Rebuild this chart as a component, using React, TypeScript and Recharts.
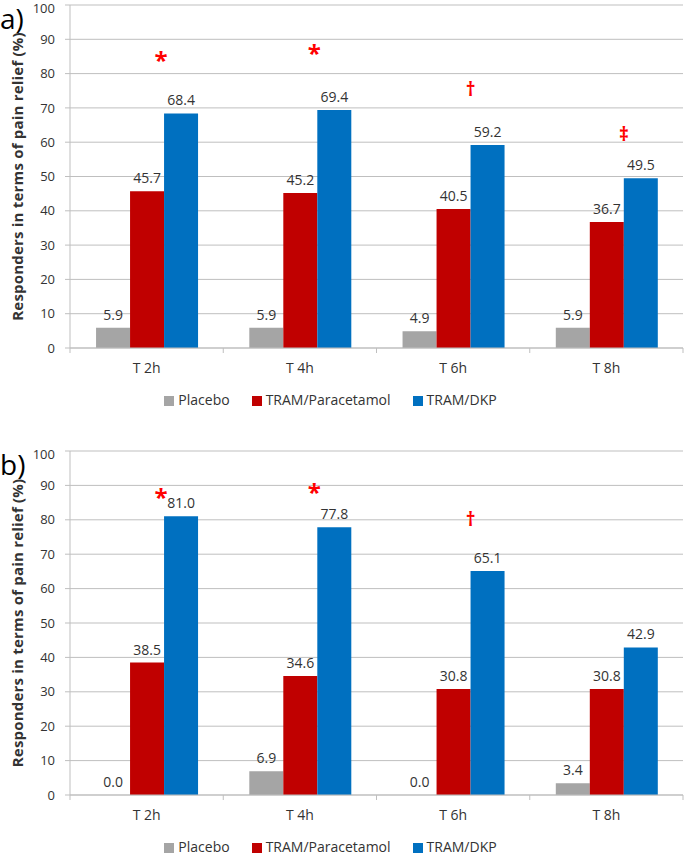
import React from 'react';
import { ComposedChart, Bar, XAxis, YAxis, CartesianGrid, Legend, LabelList } from 'recharts';

const timepoints = ['T 2h', 'T 4h', 'T 6h', 'T 8h'];
const seriesNames = ['Placebo', 'TRAM/Paracetamol', 'TRAM/DKP'];

// panel a)
const placeboA = [5.9, 5.9, 4.9, 5.9];
const tramParaA = [45.7, 45.2, 40.5, 36.7];
const tramDkpA = [68.4, 69.4, 59.2, 49.5];
// significance marks above the TRAM/DKP bars and the level (%) they sit at
const marksA = ['*', '*', '†', '‡'];
const markLevelsA = [85.3, 87.2, 74.9, 61.8];

// panel b)
const placeboB = [0.0, 6.9, 0.0, 3.4];
const tramParaB = [38.5, 34.6, 30.8, 30.8];
const tramDkpB = [81.0, 77.8, 65.1, 42.9];
const marksB = ['*', '*', '†', ''];
const markLevelsB = [87.8, 89.5, 79.7, 0];

const yTicks = [0, 10, 20, 30, 40, 50, 60, 70, 80, 90, 100];

const GRAY = '#A5A5A5';
const RED = '#C00000';
const BLUE = '#0070C0';
const GRID = '#BFBFBF';
const TEXT = '#333333';

const W = 685;
const AXIS_W = 70;
const RIGHT = 2;
const HALF_BAND = (W - AXIS_W - RIGHT) / timepoints.length / 2;

const CategoryTick = (props: any) => {
  const { x, y, payload, index, visibleTicksCount } = props;
  const half = payload?.offset || HALF_BAND;
  const last = index === visibleTicksCount - 1;
  return (
    <g>
      <line x1={x - half} y1={y} x2={x - half} y2={y + 5} stroke={GRID} />
      {last && <line x1={x + half} y1={y} x2={x + half} y2={y + 5} stroke={GRID} />}
      <text x={x} y={y + 15} dy="0.71em" textAnchor="middle" fill={TEXT} fontSize={14}>
        {payload.value}
      </text>
    </g>
  );
};

// placebo values are labelled from the neighbouring red bar, so that 0.0 still shows
const placeboContent = (rows: any[]) => (props: any) => {
  const row = rows[props.index];
  if (!row) return null;
  const vb = props.viewBox || props;
  const pxPerUnit = vb.height / row.para;
  const top = vb.y + vb.height - row.placebo * pxPerUnit;
  return (
    <text x={vb.x - vb.width / 2} y={top - 8} textAnchor="middle" fill={TEXT} fontSize={14}>
      {row.placebo.toFixed(1)}
    </text>
  );
};

const markContent = (rows: any[]) => (props: any) => {
  const row = rows[props.index];
  if (!row || !row.mark) return null;
  const vb = props.viewBox || props;
  const pxPerUnit = vb.height / row.dkp;
  const cy = vb.y + vb.height - row.level * pxPerUnit;
  const star = row.mark === '*';
  const size = star ? 24 : 19;
  const shift = star ? 0.56 * size : 0.28 * size;
  return (
    <text x={vb.x - (star ? 3 : 0)} y={cy + shift} textAnchor="middle" fill="#FF0000" fontSize={size} fontWeight="bold">
      {row.mark}
    </text>
  );
};

function Panel({ placebo, para, dkp, marks, levels, letter, top, height }: any) {
  const rows = timepoints.map((t, i) => ({
    time: t,
    placebo: placebo[i],
    para: para[i],
    dkp: dkp[i],
    mark: marks[i],
    level: levels[i],
  }));
  return (
    <div style={{ position: 'absolute', left: 0, top, width: W, height }}>
      <ComposedChart
        width={W}
        height={height}
        data={rows}
        margin={{ top: 5, right: RIGHT, left: 0, bottom: 0 }}
        barCategoryGap="17%"
        barGap={0}
      >
        <CartesianGrid vertical={false} stroke={GRID} />
        <XAxis
          dataKey="time"
          height={42}
          axisLine={{ stroke: GRID }}
          tickLine={false}
          tickSize={0}
          tickMargin={0}
          tick={<CategoryTick />}
          interval={0}
        />
        <YAxis
          type="number"
          domain={[0, 100]}
          ticks={yTicks}
          width={AXIS_W}
          axisLine={{ stroke: GRID }}
          tickLine={{ stroke: GRID }}
          tickSize={5}
          tickMargin={10}
          tick={{ fill: TEXT, fontSize: 13 }}
          label={{
            value: 'Responders in terms of pain relief (%)',
            angle: -90,
            position: 'insideLeft',
            offset: 18,
            style: { textAnchor: 'middle', fontWeight: 'bold', fontSize: 15, letterSpacing: '0.2px', fill: TEXT },
          }}
        />
        <Legend
          verticalAlign="bottom"
          height={30}
          iconType="square"
          iconSize={10}
          itemSorter={(item: any) => seriesNames.indexOf(item.value)}
          wrapperStyle={{ fontSize: 14 }}
          formatter={(v: string) => <span style={{ color: TEXT }}>{v}</span>}
        />
        <Bar dataKey="placebo" name={seriesNames[0]} fill={GRAY} isAnimationActive={false} />
        <Bar dataKey="para" name={seriesNames[1]} fill={RED} isAnimationActive={false}>
          <LabelList dataKey="para" position="top" offset={8} fill={TEXT} fontSize={14} formatter={(v: any) => Number(v).toFixed(1)} />
          <LabelList dataKey="placebo" content={placeboContent(rows)} />
        </Bar>
        <Bar dataKey="dkp" name={seriesNames[2]} fill={BLUE} isAnimationActive={false}>
          <LabelList dataKey="dkp" position="top" offset={8} fill={TEXT} fontSize={14} formatter={(v: any) => Number(v).toFixed(1)} />
          <LabelList dataKey="mark" content={markContent(rows)} />
        </Bar>
      </ComposedChart>
      <div style={{ position: 'absolute', left: 0, top: 4, fontSize: 28, lineHeight: '28px', color: '#000', background: '#fff', paddingRight: 2 }}>{letter}</div>
    </div>
  );
}

export default function App() {
  return (
    <div style={{ position: 'absolute', left: 0, top: 0, width: W, height: 870, background: '#fff', fontFamily: "'Open Sans', sans-serif" }}>
      <style>{'.recharts-legend-item { margin-right: 22px !important; }'}</style>
      <Panel placebo={placeboA} para={tramParaA} dkp={tramDkpA} marks={marksA} levels={markLevelsA} letter="a)" top={0} height={420} />
      <Panel placebo={placeboB} para={tramParaB} dkp={tramDkpB} marks={marksB} levels={markLevelsB} letter="b)" top={446} height={421} />
    </div>
  );
}
